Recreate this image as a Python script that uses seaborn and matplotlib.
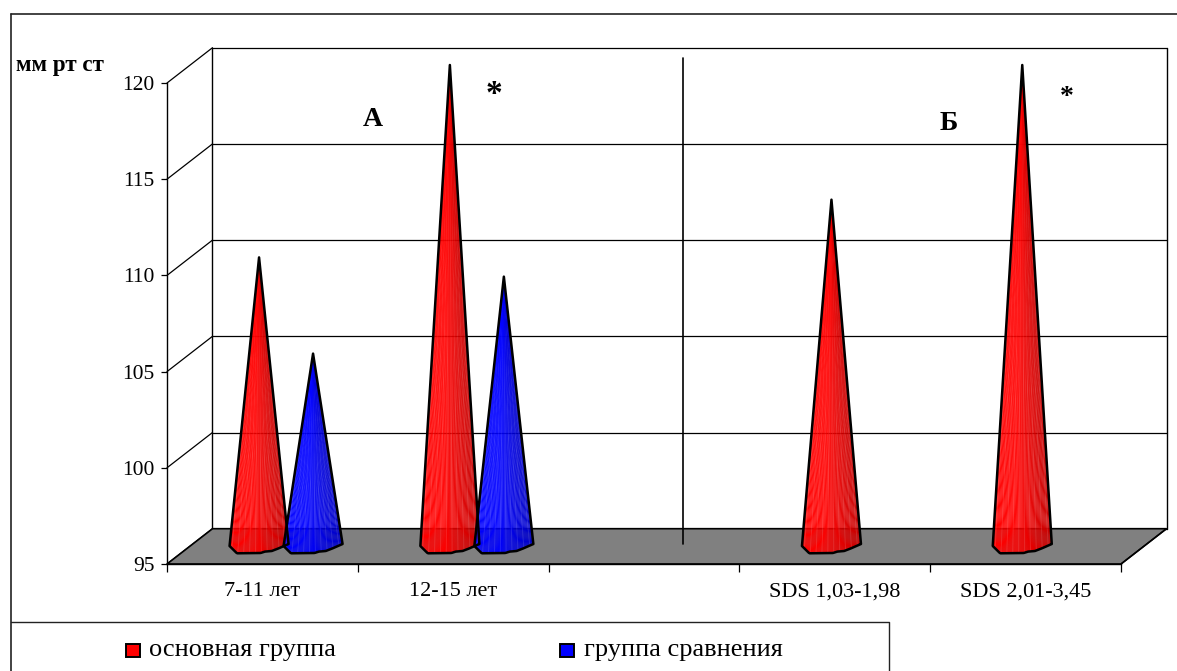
import numpy as np
import pandas as pd
import matplotlib
matplotlib.use("Agg")
import matplotlib.pyplot as plt
import seaborn as sns
from matplotlib.patches import Polygon, Rectangle
from matplotlib.lines import Line2D
from matplotlib.colors import to_rgb

# values
categories = ["7-11 лет", "12-15 лет", " ", "SDS 1,03-1,98", "SDS 2,01-3,45"]
groups = ["основная группа", "группа сравнения"]
main_group = [110, 120, np.nan, 113, 120]
compare_group = [105, 109, np.nan, np.nan, np.nan]
y_ticks = [95, 100, 105, 110, 115, 120]
colors = {"основная группа": "#ff0000", "группа сравнения": "#0000ff"}

df = pd.DataFrame({
    "age": categories * 2,
    "group": [groups[0]] * 5 + [groups[1]] * 5,
    "value": main_group + compare_group,
})

W, H = 1177, 671
sns.set_theme(style="white")
plt.rcParams["font.family"] = ["Liberation Serif", "DejaVu Serif"]

fig = plt.figure(figsize=(W / 100, H / 100), dpi=100, facecolor="white")
ax = fig.add_axes([167 / W, 1 - 564 / H, (1121 - 167) / W, (564 - 83) / H])


def fx(x):
    return x / W


def fy(y):
    return 1 - y / H


# bars give the positions and heights, the cones are drawn over them
sns.barplot(data=df, x="age", y="value", hue="group", order=categories, hue_order=groups,
            palette=colors, width=0.566, saturation=1, errorbar=None, legend=False, ax=ax)
ax.set_xlim(-0.5, 4.5)
ax.set_ylim(95, 120)
ax.set_xlabel("")
ax.set_ylabel("")
ax.patch.set_alpha(0)

# 3d box
dx = 45.5 / 190.8
dy = 35.3 / 19.24
x0, x1 = -0.5, 4.5
floor = Polygon([(x0, 95), (x1, 95), (x1 + dx, 95 + dy), (x0 + dx, 95 + dy)], closed=True,
                facecolor="#808080", edgecolor="black", lw=1.2, zorder=2, clip_on=False)
ax.add_patch(floor)
for t in y_ticks:
    ax.plot([x0, x0 + dx], [t, t + dy], color="black", lw=0.9, zorder=1, clip_on=False)
    ax.plot([x0 + dx, x1 + dx], [t + dy, t + dy], color="black", lw=0.9, zorder=1, clip_on=False)
ax.plot([x0 + dx, x0 + dx], [95 + dy, 120 + dy], color="black", lw=1.0, zorder=1, clip_on=False)
ax.plot([x1 + dx, x1 + dx], [95 + dy, 120 + dy], color="black", lw=1.0, zorder=1, clip_on=False)
ax.plot([x1, x1 + dx], [95, 95 + dy], color="black", lw=1.0, zorder=2, clip_on=False)

# cone base outline, t across the width and drop in px below the centre
base_t = [-1, -0.75, 0.05, 0.2, 0.43, 0.65, 1]
base_px = [0, 7.3, 7, 5.6, 5, 2.5, -2]
half_w = 29.5 / 190.8
px_y = 19.24
n_slices = 60

for cont in ax.containers:
    for bar in cont:
        val = bar.get_height()
        if np.isnan(val):
            bar.set_visible(False)
            continue
        c = np.array(to_rgb(bar.get_facecolor()))
        bar.set_visible(False)
        xc = bar.get_x() + bar.get_width() / 2 + dx * 0.52
        yb = 95 + 18 / px_y
        apex = (xc, val + 18 / px_y)
        ts = np.linspace(-1, 1, n_slices + 1)
        ys = yb - np.interp(ts, base_t, base_px) / px_y
        xs = xc + ts * half_w
        for i in range(n_slices):
            shade = 1.0 - 0.22 * max(0, (ts[i] + 0.2) / 1.2)
            col = c * shade
            if i % 6 == 2:
                col = col + (1 - col) * 0.12
            ax.add_patch(Polygon([apex, (xs[i], ys[i]), (xs[i + 1], ys[i + 1])], closed=True,
                                 facecolor=col, edgecolor=col, lw=0.15, zorder=3, clip_on=False))
        outline = [apex] + list(zip(xs, ys))
        ax.add_patch(Polygon(outline, closed=True, fill=False, edgecolor="black", lw=1.8,
                             joinstyle="round", zorder=4, clip_on=False))

# axes
sns.despine(ax=ax)
for s in ["left", "bottom"]:
    ax.spines[s].set_color("black")
    ax.spines[s].set_linewidth(1.0)
    ax.spines[s].set_zorder(5)
ax.set_yticks(y_ticks)
ax.set_xticks(np.arange(-0.5, 5), minor=True)
ax.tick_params(axis="x", which="major", length=0, pad=13, labelsize=16, colors="black")
ax.tick_params(axis="x", which="minor", bottom=True, length=6, width=0.9, color="black")
ax.tick_params(axis="y", left=True, length=4, width=0.9, color="black", pad=5,
               labelsize=15.5, labelcolor="black")

# annotations
fig.add_artist(Line2D([fx(683), fx(683)], [fy(58), fy(544)], color="black", lw=1.2, zorder=6))
fig.text(fx(16), fy(65), "мм рт ст", fontsize=16.6, fontweight="bold", color="black", va="center")
fig.text(fx(373), fy(119), "А", fontsize=20, fontweight="bold", color="black", ha="center", va="center")
fig.text(fx(949), fy(123), "Б", fontsize=20, fontweight="bold", color="black", ha="center", va="center")
fig.text(fx(494), fy(94), "*", fontsize=24, fontweight="bold", color="black", ha="center", va="center")
fig.text(fx(1067), fy(98), "*", fontsize=20, fontweight="bold", color="black", ha="center", va="center")

# outer frame
fig.add_artist(Line2D([fx(10.5), fx(W)], [fy(14), fy(14)], color="#222222", lw=1.2))
fig.add_artist(Line2D([fx(10.5), fx(10.5)], [fy(14), fy(H)], color="#222222", lw=1.2))

# legend box
fig.add_artist(Line2D([fx(10.5), fx(889), fx(889)], [fy(622), fy(622), fy(H)], color="#222222", lw=1.0))
for name, sx, tx in zip(groups, [126, 560], [149, 584]):
    fig.add_artist(Rectangle((fx(sx), fy(657)), 14 / W, 13 / H, transform=fig.transFigure,
                             facecolor=colors[name], edgecolor="black", lw=1.4))
    fig.text(fx(tx), fy(650), name, fontsize=19, color="black", va="center")

fig.savefig("out.png", dpi=100)
